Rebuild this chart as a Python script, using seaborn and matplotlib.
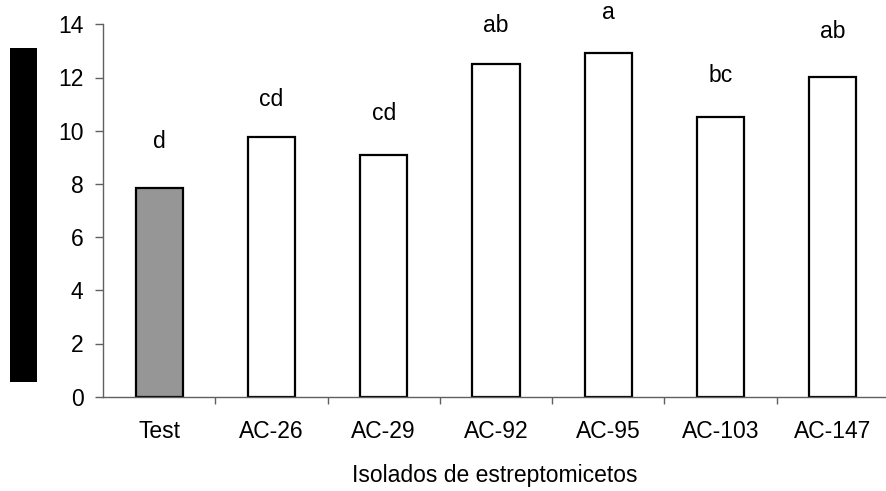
import matplotlib
matplotlib.use("Agg")
import matplotlib.pyplot as plt
import seaborn as sns
import pandas as pd
from matplotlib.patches import Rectangle

categories = ["Test", "AC-26", "AC-29", "AC-92", "AC-95", "AC-103", "AC-147"]
values = [7.83, 9.75, 9.09, 12.52, 12.93, 10.51, 12.02]
letters = ["d", "cd", "cd", "ab", "a", "bc", "ab"]
letter_y = [9.59, 11.19, 10.65, 13.97, 14.46, 12.09, 13.72]
colors = ["#969696", "white", "white", "white", "white", "white", "white"]
yticks = [0, 2, 4, 6, 8, 10, 12, 14]
xlabel = "Isolados de estreptomicetos"

sns.set_style("white")
plt.rcParams["font.family"] = ["Liberation Sans", "DejaVu Sans"]
plt.rcParams["text.color"] = "black"
plt.rcParams["xtick.labelcolor"] = "black"
plt.rcParams["ytick.labelcolor"] = "black"
plt.rcParams["axes.labelcolor"] = "black"
FS = 16.5

fig = plt.figure(figsize=(8.86, 4.91), dpi=100)
ax = fig.add_axes([103 / 886, 94.3 / 491, 1 - 103 / 886, (396.7 - 24.3) / 491])

df = pd.DataFrame({"cat": categories, "val": values})
sns.barplot(data=df, x="cat", y="val", hue="cat", palette=colors, legend=False,
            width=0.42, edgecolor="black", linewidth=1.6, ax=ax, saturation=1)

for i, (t, ty) in enumerate(zip(letters, letter_y)):
    ax.text(i, ty, t, ha="center", va="center", fontsize=FS, color="black", clip_on=False)

ax.set_xlim(-0.5, 6.474)
ax.set_ylim(0, 14)
ax.set_yticks(yticks)
ax.set_yticklabels([str(v) for v in yticks], fontsize=FS, color="black")
ax.set_xticks([0.5, 1.5, 2.5, 3.5, 4.5, 5.5])
ax.set_xticklabels([])
ax.set_xticks(range(len(categories)), minor=True)
ax.set_xticklabels(categories, minor=True, fontsize=FS, color="black")
ax.tick_params(axis="x", which="major", direction="out", length=5, color="#606060", width=1, bottom=True)
ax.tick_params(axis="x", which="minor", length=0, pad=17)
ax.tick_params(axis="y", direction="out", length=6, color="#606060", width=1, left=True, pad=8)
ax.set_xlabel(xlabel, fontsize=FS, labelpad=15, color="black")
ax.set_ylabel("")

for s in ["top", "right"]:
    ax.spines[s].set_visible(False)
for s in ["left", "bottom"]:
    ax.spines[s].set_color("#606060")
    ax.spines[s].set_linewidth(1)

fig.patches.append(Rectangle((10 / 886, 1 - 381.7 / 491), 27 / 886, (381.7 - 48) / 491,
                             transform=fig.transFigure, facecolor="black", edgecolor="none"))

fig.savefig("out.png", dpi=100)
